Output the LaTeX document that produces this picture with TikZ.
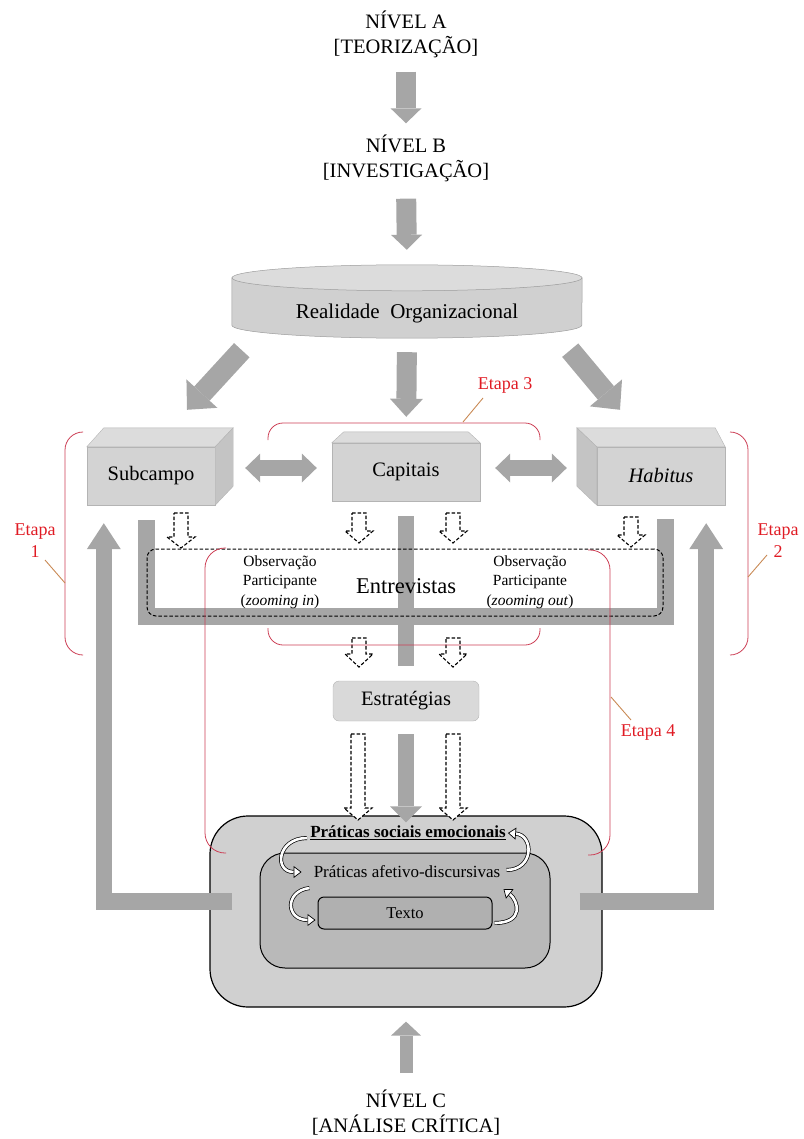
\documentclass[tikz,border=0pt]{standalone}
\usepackage{fontspec}
\setmainfont{Liberation Serif}
\usetikzlibrary{arrows.meta}
\usepackage{xcolor}
\definecolor{arrgray}{HTML}{A6A6A6}
\definecolor{boxfront}{HTML}{D3D3D3}
\definecolor{boxtop}{HTML}{DCDCDC}
\definecolor{boxside}{HTML}{C4C4C4}
\definecolor{boxedge}{HTML}{B4B4B4}
\definecolor{cylfill}{HTML}{D0D0D0}
\definecolor{cyledge}{HTML}{9C9C9C}
\definecolor{estfill}{HTML}{D9D9D9}
\definecolor{pratfill}{HTML}{D0D0D0}
\definecolor{paffill}{HTML}{B9B9B9}
\definecolor{txtfill}{HTML}{B0B0B0}
\definecolor{etred}{HTML}{CC3F55}
\definecolor{etlabc}{HTML}{E01B24}
\definecolor{leadc}{HTML}{C98A55}

\begin{document}
\begin{tikzpicture}[x=1pt, y=-1pt,
        lvl/.style={align=center, inner sep=0pt, font=\fontsize{20.5}{25}\selectfont},
        blk/.style={arrgray, line width=19pt, -{Triangle[length=16pt, width=32pt, line width=0pt]}},
        band/.style={arrgray, line width=17pt, line join=miter},
        face/.style={draw=boxedge, fill=boxfront, line width=0.4pt, minimum width=128pt, minimum height=58pt, font=\fontsize{20.5}{24}\selectfont},
        topf/.style={draw=boxedge, fill=boxtop, line width=0.4pt},
        sidef/.style={draw=boxedge, fill=boxside, line width=0.4pt},
        hollow/.style={draw=black, fill=white, line width=1.1pt, dash pattern=on 3.5pt off 2pt},
        etapa/.style={draw=etred, line width=0.8pt, rounded corners=18pt},
        leader/.style={draw=leadc, line width=0.9pt},
        etlab/.style={text=etlabc, align=center, inner sep=0pt, font=\fontsize{18}{22}\selectfont},
        obs/.style={align=center, inner sep=0pt, font=\fontsize{15.5}{19.5}\selectfont},
        curv/.style={draw=black, double=white, double distance=2.6pt, line width=0.7pt, -{Triangle[length=8pt, width=12pt, fill=white, line width=0.7pt]}}
      ]
        \useasboundingbox (0,0) rectangle (803,1139);
        \def\cx{406}

        % levels
        \node[lvl] (nivA) at (\cx,34) {NÍVEL A\\{[TEORIZAÇÃO]}};
        \node[lvl] (nivB) at (\cx,158) {NÍVEL B\\{[INVESTIGAÇÃO]}};
        \node[lvl] (nivC) at (\cx,1113) {NÍVEL C\\{[ANÁLISE CRÍTICA]}};

        % cylinder
        \node[minimum width=350pt, minimum height=73pt, inner sep=0pt] (real) at (407,301.5) {};
        \draw[draw=cyledge, fill=cylfill, line width=0.5pt] ([yshift=-13pt]real.north west) -- ([yshift=13pt]real.south west)
          arc[start angle=180, end angle=360, x radius=175pt, y radius=13pt] -- ([yshift=-13pt]real.north east) -- cycle;
        \draw[draw=cyledge, fill=boxtop, line width=0.5pt] ([yshift=-13pt]real.north) ellipse[x radius=175pt, y radius=13pt];
        \node[font=\fontsize{21}{24}\selectfont] (realtxt) at ([yshift=-12pt]real.center) {Realidade\ \ Organizacional};

        % boxes
        \node[face] (sub) at (151,476) {Subcampo};
        \draw[topf] (sub.north west) -- ++(17,-19) -- ([shift={(18,-19)}]sub.north east) -- (sub.north east) -- cycle;
        \draw[sidef] (sub.north east) -- ++(18,-19) -- ([shift={(18,-19)}]sub.south east) -- (sub.south east) -- cycle;

        \node[face, minimum width=148pt] (cap) at (\cx,472) {Capitais};
        \draw[topf] (cap.north west) -- ++(12,-11) -- ([shift={(-12,-11)}]cap.north east) -- (cap.north east) -- cycle;

        \node[face] (hab) at (661,476) {\textit{Habitus}};
        \draw[topf] (hab.north west) -- ++(-20,-19) -- ([shift={(-10,-19)}]hab.north east) -- (hab.north east) -- cycle;
        \draw[sidef] (hab.north west) -- ++(-20,-19) -- ([shift={(-20,-19)}]hab.south west) -- (hab.south west) -- cycle;

        % lower part
        \node[draw=boxedge, fill=estfill, rounded corners=6pt, minimum width=146pt, minimum height=40pt, font=\fontsize{20.5}{24}\selectfont] (est) at (\cx,701) {Estratégias};
        \node[draw, fill=pratfill, line width=1.2pt, rounded corners=38pt, minimum width=392pt, minimum height=191pt] (prat) at (\cx,911.5) {};
        \node[draw, fill=paffill, line width=1pt, rounded corners=25pt, minimum width=290pt, minimum height=115pt] (paf) at (405,910.5) {};
        \node[draw, fill=txtfill, line width=1pt, rounded corners=6pt, minimum width=174pt, minimum height=32pt, font=\fontsize{16.5}{20}\selectfont] (txt) at (405,913) {Texto};
        \node[inner sep=0pt, font=\bfseries\fontsize{17}{20}\selectfont] (psoc) at (408,833) {\underline{Práticas sociais emocionais}};
        \node[inner sep=0pt, font=\fontsize{17}{20}\selectfont] (paftxt) at (407,872) {Práticas afetivo-discursivas};

        % block arrows
        \draw[blk, line width=20pt, -{Triangle[length=15pt, width=31pt, line width=0pt]}, shorten <=14pt, shorten >=11pt] (nivA.south) -- (nivB.north);
        \draw[blk, line width=20pt, -{Triangle[length=15pt, width=31pt, line width=0pt]}, shorten <=17pt, shorten >=15pt] (nivB.south) -- (real.north);
        \draw[blk, line width=20pt, -{Triangle[length=18pt, width=33pt, line width=0pt]}, shorten <=14pt, shorten >=26pt] (real.south) -- (cap.north);
        \draw[blk, line width=21pt, -{Triangle[length=22pt, width=42pt, line width=0pt]}] ([shift={(10,12)}]real.south west) -- ([shift={(36,-37)}]sub.north);
        \draw[blk, line width=21pt, -{Triangle[length=22pt, width=42pt, line width=0pt]}] ([shift={(-12,12)}]real.south east) -- ([shift={(-41,-37)}]hab.north);
        \draw[blk, line width=16pt, shorten <=13pt, shorten >=-7pt] (est.south) -- (prat.north);
        \draw[blk, line width=13pt, -{Triangle[length=14pt, width=30pt, line width=0pt]}, shorten <=17pt, shorten >=14pt] (nivC.north) -- (prat.south);

        % bands round the interviews
        \draw[band] ([shift={(-4.5,15)}]sub.south) -- ++(0,96.5) -| ([shift={(4.5,14)}]hab.south);
        \draw[band, line width=16pt, shorten <=15pt, shorten >=15pt] (cap.south) -- (est.north);

        \node[draw, line width=1pt, dash pattern=on 3.5pt off 2pt, rounded corners=9pt, minimum width=516pt, minimum height=67pt] (ent) at (405,582.5) {};
        \node[font=\fontsize{22.5}{26}\selectfont] (enttxt) at (\cx,586) {Entrevistas};
        \node[obs] (obsin) at (280,582) {Observação\\Participante\\(\textit{zooming in})};
        \node[obs] (obsout) at (530,582) {Observação\\Participante\\(\textit{zooming out})};

        % dashed hollow arrows
        \foreach \x/\ya/\yb/\yc in {181/513/537/548, 359/513/531/543, 453/513/531/543, 631/517/535/547,
                                    359/638/654/667, 453/638/654/667, 358/734/808/820, 453/734/808/820}
          \draw[hollow] (\x-7,\ya) -- (\x+7,\ya) -- (\x+7,\yb) -- (\x+14,\yb) -- (\x,\yc) -- (\x-14,\yb) -- (\x-7,\yb) -- cycle;

        % return arrows
        \draw[blk, line width=16.5pt, line join=miter, -{Triangle[length=26pt, width=34pt, line width=0pt]}] ([shift={(23,-10)}]prat.west) -| ([shift={(17,18)}]sub.south west);
        \draw[blk, line width=16.5pt, line join=miter, -{Triangle[length=26pt, width=34pt, line width=0pt]}] ([shift={(-23,-10)}]prat.east) -| ([shift={(-19,18)}]hab.south east);

        % double arrows
        \draw[arrgray, line width=16pt, {Triangle[length=15pt, width=29pt, line width=0pt]}-{Triangle[length=15pt, width=29pt, line width=0pt]}] ([shift={(30,-8)}]sub.east) -- ([shift={(-15,-4)}]cap.west);
        \draw[arrgray, line width=16pt, {Triangle[length=15pt, width=29pt, line width=0pt]}-{Triangle[length=15pt, width=29pt, line width=0pt]}] ([shift={(15,-4)}]cap.east) -- ([shift={(-30,-8)}]hab.west);

        % curved arrows
        \draw[curv] ([shift={(-3,5)}]psoc.west) .. controls +(-30,0) and +(-28,0) .. ([shift={(-12,0)}]paftxt.west);
        \draw[curv] ([shift={(6,-2)}]paftxt.east) .. controls +(28,0) and +(26,2) .. ([shift={(2,0)}]psoc.east);
        \draw[curv] ([shift={(-8,-25)}]txt.west) .. controls +(-25,3) and +(-30,0) .. ([shift={(-2,7)}]txt.west);
        \draw[curv] ([shift={(2,10)}]txt.east) .. controls +(30,0) and +(15,12) .. ([shift={(11,-24)}]txt.east);

        % ---- Etapas ----
        \draw[etapa] (82,432) -- (65,432) -- (65,655) -- (82,655);
        \draw[etapa] (730,432) -- (748,432) -- (748,655) -- (730,655);
        \draw[etapa, rounded corners=15pt] (268,440) -- (268,423) -- (540,423) -- (540,440);
        \draw[etapa, rounded corners=15pt] (268,628) -- (268,645) -- (540,645) -- (540,628);
        \draw[etapa, rounded corners=20pt] (226,548) -- (205,548) -- (205,853) -- (226,853);
        \draw[etapa, rounded corners=20pt] (588,550) -- (610,550) -- (610,855) -- (588,855);

        \node[etlab] (et1) at (35,541) {Etapa\\1};
        \node[etlab] (et2) at (778,541) {Etapa\\2};
        \node[etlab] (et3) at (505,385) {Etapa 3};
        \node[etlab] (et4) at (648,732) {Etapa 4};
        \coordinate (b1) at (65,583);
        \coordinate (b2) at (748,577);
        \coordinate (b3) at (463,422);
        \coordinate (b4) at (611,697);
        \draw[leader] (b1) -- (45,560);
        \draw[leader] (b2) -- (767,555);
        \draw[leader] (b3) -- (483,398);
        \draw[leader] (b4) -- (631,720);
    \end{tikzpicture}
\end{document}
